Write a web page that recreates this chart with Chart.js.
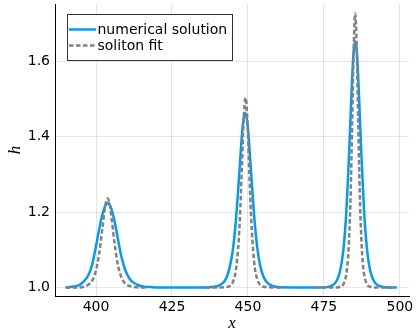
<!DOCTYPE html>
<html>
<head>
<meta charset="utf-8">
<script src="https://cdn.jsdelivr.net/npm/chart.js@4.4.1/dist/chart.umd.min.js"></script>
<style>
  html, body { margin: 0; padding: 0; background: #fff; }
  #c { display: block; }
</style>
</head>
<body>
<canvas id="c" width="417" height="335"></canvas>
<script>
// ---- data ----
const seriesNames = ['numerical solution', 'soliton fit'];

const xNumerical = [390,392,394,395,396,397,398,399,400,401,402,403,403.5,404,404.5,405,406,407,408,409,410,411,412,414,416,418,420,430,436,438,440,442,443,444,445,446,447,448,448.5,449,449.5,450,451,452,453,454,455,456,458,460,465,470,474,476,477.2,478.2,479.2,480.2,481.2,482.2,483.2,484.2,484.7,485.2,485.7,486.2,487.2,488.2,489.2,490.2,491.2,492.2,494.2,496,499];
const hNumerical = [1.000,1.002,1.005,1.009,1.016,1.026,1.042,1.070,1.110,1.153,1.191,1.216,1.222,1.224,1.220,1.210,1.180,1.138,1.095,1.062,1.039,1.024,1.015,1.006,1.002,1.001,1.000,1.000,1.000,1.001,1.004,1.014,1.027,1.054,1.098,1.175,1.285,1.403,1.445,1.463,1.455,1.422,1.310,1.195,1.110,1.059,1.031,1.016,1.004,1.001,1.000,1.000,1.000,1.001,1.0035,1.008,1.018,1.040,1.086,1.179,1.339,1.540,1.617,1.654,1.638,1.574,1.378,1.205,1.100,1.046,1.021,1.009,1.002,1.000,1.000];

// soliton fit: three separate pieces (null = gap between pieces)
const xSoliton = [390,394,396,397,398,399,400,401,402,403,403.5,403.9,404.5,405,406,407,408,409,410,411,412,414,417,
                  426,
                  436,440,443,444,445,446,447,447.5,448,448.5,449,449.25,449.5,450,450.5,451,452,453,454,455,456,458,462,
                  467,
                  472,476,479.3,480.3,481.3,482.3,482.8,483.3,483.8,484.3,484.8,485.3,485.8,486.3,486.8,487.3,487.8,488.3,489.3,490.3,491.3,494,498];
const hSoliton = [1.000,1.000,1.002,1.005,1.011,1.022,1.046,1.088,1.151,1.215,1.233,1.236,1.220,1.192,1.124,1.068,1.035,1.017,1.008,1.004,1.002,1.000,1.000,
                  null,
                  1.000,1.000,1.001,1.004,1.014,1.045,1.130,1.212,1.318,1.427,1.497,1.504,1.489,1.406,1.295,1.194,1.070,1.023,1.007,1.002,1.001,1.000,1.000,
                  null,
                  1.000,1.000,1.000,1.002,1.007,1.032,1.065,1.131,1.250,1.434,1.634,1.728,1.634,1.434,1.250,1.131,1.065,1.032,1.007,1.002,1.000,1.000,1.000];

const xTicks = [400, 425, 450, 475, 500];
const xTickLabels = ['400', '425', '450', '475', '500'];
const yTicks = [1.0, 1.2, 1.4, 1.6];
const yTickLabels = ['1.0', '1.2', '1.4', '1.6'];
const xTitle = 'x';
const yTitle = 'h';

// ---- chart ----
const toPoints = (xs, ys) => xs.map((x, i) => ({ x: x, y: ys[i] }));

const legendBox = {
  id: 'legendBox',
  afterDraw(chart) {
    const ctx = chart.ctx;
    const bx = 67.5, by = 14.5, bw = 165, bh = 46;
    ctx.save();
    ctx.fillStyle = '#ffffff';
    ctx.fillRect(bx, by, bw, bh);
    ctx.strokeStyle = '#333333';
    ctx.lineWidth = 1;
    ctx.setLineDash([]);
    ctx.strokeRect(bx, by, bw, bh);
    ctx.font = "14px 'DejaVu Sans'";
    ctx.textBaseline = 'middle';
    ctx.textAlign = 'left';
    chart.data.datasets.forEach((ds, i) => {
      const y = 29.5 + i * 16;
      ctx.strokeStyle = ds.borderColor;
      ctx.lineWidth = ds.borderWidth;
      ctx.setLineDash(ds.borderDash || []);
      ctx.beginPath();
      ctx.moveTo(69, y);
      ctx.lineTo(96, y);
      ctx.stroke();
      ctx.setLineDash([]);
      ctx.fillStyle = '#000000';
      ctx.fillText(ds.label, 97.5, y + 0.5);
    });
    ctx.restore();
  }
};

const zeroPad = s => { s.paddingTop = 0; s.paddingBottom = 0; s.paddingLeft = 0; s.paddingRight = 0; };

new Chart(document.getElementById('c'), {
  type: 'line',
  data: {
    datasets: [
      {
        label: seriesNames[0],
        data: toPoints(xNumerical, hNumerical),
        borderColor: '#009AFA',
        borderWidth: 2.5,
        pointRadius: 0,
        cubicInterpolationMode: 'monotone',
        fill: false,
        order: 1
      },
      {
        label: seriesNames[1],
        data: toPoints(xSoliton, hSoliton),
        borderColor: '#808080',
        borderWidth: 2.5,
        borderDash: [4.5, 2.5],
        pointRadius: 0,
        cubicInterpolationMode: 'monotone',
        spanGaps: false,
        fill: false,
        order: 0
      }
    ]
  },
  options: {
    responsive: false,
    animation: false,
    devicePixelRatio: 1,
    layout: { padding: { top: 4, right: 8, left: 0, bottom: 0 } },
    plugins: { legend: { display: false }, tooltip: { enabled: false } },
    scales: {
      x: {
        type: 'linear',
        min: 386.5,
        max: 503,
        afterFit: s => { s.height = 39; zeroPad(s); },
        afterBuildTicks: s => { s.ticks = xTicks.map(v => ({ value: v })); },
        ticks: {
          padding: 3,
          color: '#000',
          font: { family: "'DejaVu Sans'", size: 14 },
          callback: (v) => xTickLabels[xTicks.indexOf(v)],
          maxRotation: 0, autoSkip: false
        },
        grid: { color: 'rgba(0,0,0,0.1)', lineWidth: 1, drawTicks: false },
        border: { display: true, color: '#000', width: 1 },
        title: {
          display: true, text: xTitle, color: '#000',
          font: { family: "'Liberation Serif'", size: 17, style: 'italic' },
          padding: { top: 0, bottom: 1 }
        }
      },
      y: {
        type: 'linear',
        min: 0.9774,
        max: 1.7527,
        afterFit: s => { s.width = 55; zeroPad(s); },
        afterBuildTicks: s => { s.ticks = yTicks.map(v => ({ value: v })); },
        ticks: {
          padding: 5,
          color: '#000',
          font: { family: "'DejaVu Sans'", size: 14 },
          callback: (v) => yTickLabels[yTicks.indexOf(v)],
          autoSkip: false
        },
        grid: { color: 'rgba(0,0,0,0.1)', lineWidth: 1, drawTicks: false },
        border: { display: true, color: '#000', width: 1 },
        title: {
          display: true, text: yTitle, color: '#000',
          font: { family: "'Liberation Serif'", size: 17, style: 'italic' },
          padding: { top: 5, bottom: 0 }
        }
      }
    }
  },
  plugins: [legendBox]
});
</script>
</body>
</html>
